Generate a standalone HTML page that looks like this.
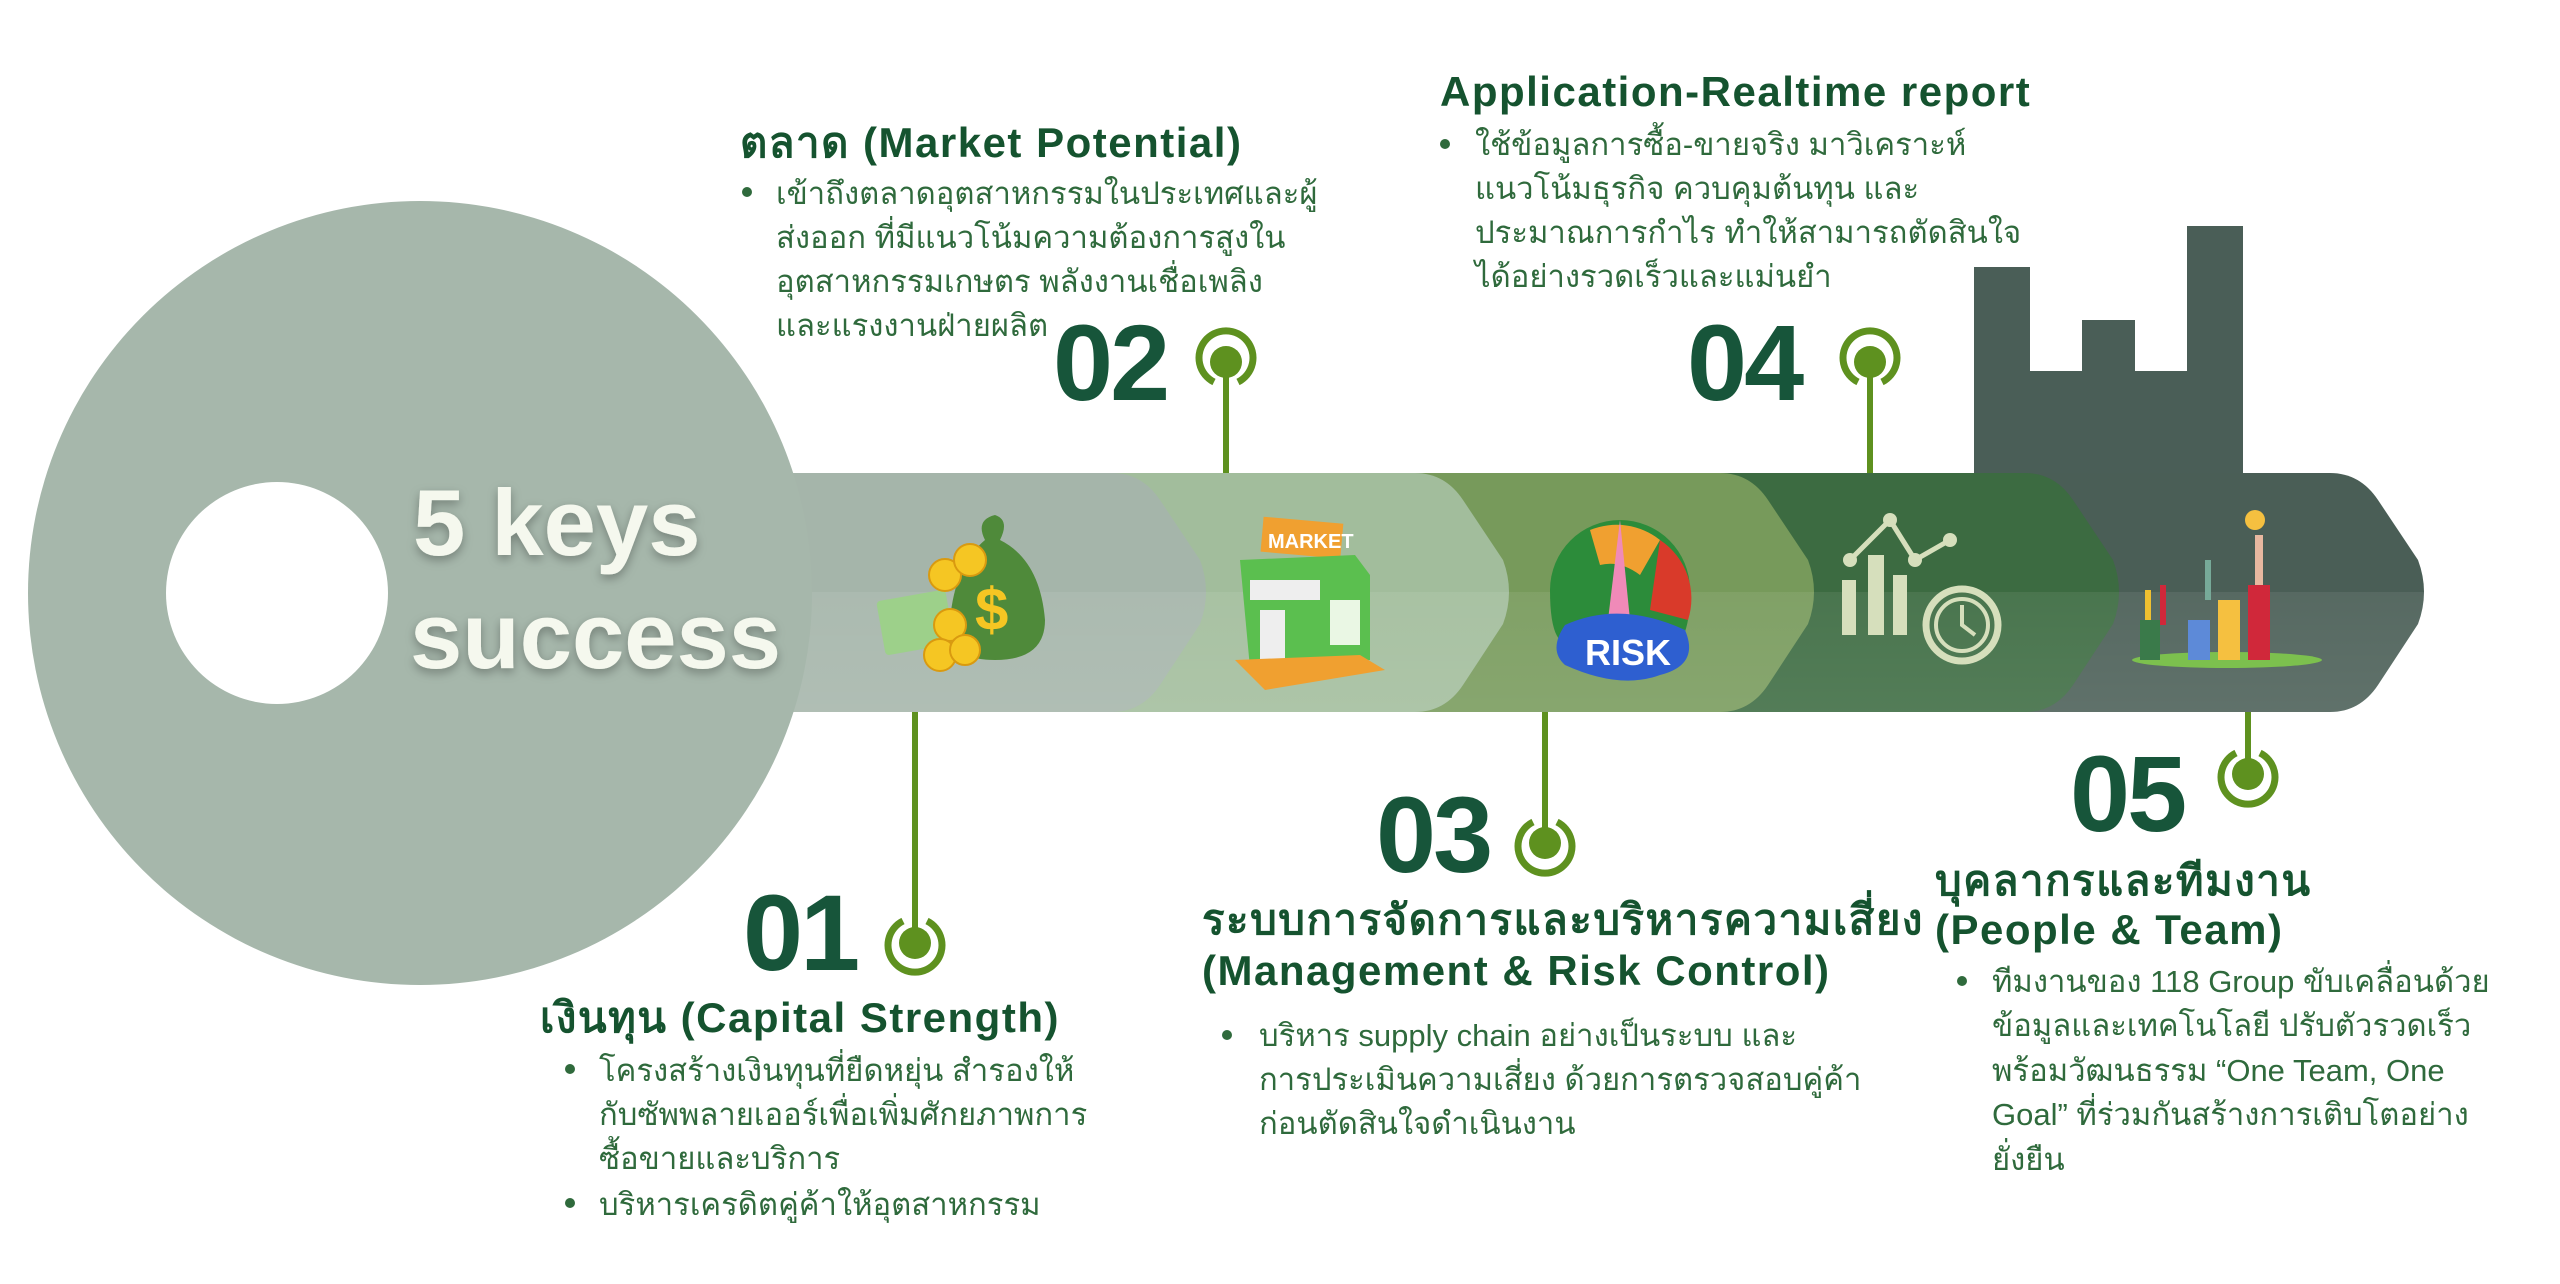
<!DOCTYPE html>
<html><head><meta charset="utf-8">
<style>
html,body{margin:0;padding:0;background:#fff;width:2560px;height:1284px;overflow:hidden}
svg{display:block}
.t{font-family:"Liberation Sans","Noto Sans CJK SC",sans-serif}
.ti{font-weight:bold;fill:#15532f;font-size:42px;letter-spacing:1.5px}
.bd{fill:#2f6a3c;font-size:31px}
.num{font-weight:bold;fill:#17553a;font-size:108px;letter-spacing:-3px}
</style></head><body>
<svg width="2560" height="1284" viewBox="0 0 2560 1284" xmlns="http://www.w3.org/2000/svg">
<defs>
<linearGradient id="lo" x1="0" y1="0" x2="0" y2="1"><stop offset="0" stop-color="#fff" stop-opacity="0.07"/><stop offset="1" stop-color="#fff" stop-opacity="0.12"/></linearGradient>
<filter id="sh" x="-10%" y="-10%" width="120%" height="130%"><feDropShadow dx="0" dy="4" stdDeviation="5" flood-color="#000" flood-opacity="0.3"/></filter>
</defs>
<path d="M1974 267 H2030 V371 H2082 V320 H2135 V371 H2187 V226 H2243 V480 H1974 Z" fill="#4a5e57"/>
<path d="M1900 473 H2330 Q2360 473 2378 500 L2418 560 Q2430 592 2418 624 L2378 685 Q2360 712 2330 712 H1900 Z" fill="#4a5e56"/>
<path d="M1600 473 H2025 Q2055 473 2073 500 L2113 560 Q2125 592 2113 624 L2073 685 Q2055 712 2025 712 H1600 Z" fill="#3c6b41"/>
<path d="M1300 473 H1720 Q1750 473 1768 500 L1808 560 Q1820 592 1808 624 L1768 685 Q1750 712 1720 712 H1300 Z" fill="#779a5b"/>
<path d="M1000 473 H1415 Q1445 473 1463 500 L1503 560 Q1515 592 1503 624 L1463 685 Q1445 712 1415 712 H1000 Z" fill="#a2bd9c"/>
<path d="M700 473 H1112 Q1142 473 1160 500 L1200 560 Q1212 592 1200 624 L1160 685 Q1142 712 1112 712 H700 Z" fill="#a5b5aa"/>
<rect x="700" y="592" width="1730" height="120" fill="url(#lo)"/>
<circle cx="420" cy="593" r="392" fill="#a6b7ab"/>
<circle cx="277" cy="593" r="111" fill="#fff"/>
<text x="413" y="555" class="t" font-size="94" font-weight="bold" fill="#f5f8ee" filter="url(#sh)">5 keys</text>
<text x="410" y="668" class="t" font-size="94" font-weight="bold" fill="#f5f8ee" filter="url(#sh)">success</text>
<g>
<path d="M985 540 Q975 520 995 515 Q1010 520 1000 540 Q1040 560 1045 620 Q1045 660 995 660 Q945 660 950 620 Q955 565 985 540Z" fill="#4f8a3a"/>
<text x="975" y="630" class="t" font-size="60" font-weight="bold" fill="#f5c623">$</text>
<rect x="880" y="595" width="70" height="55" rx="4" fill="#9dd08a" transform="rotate(-10 915 620)"/>
<g fill="#f5c623" stroke="#d99a10" stroke-width="2"><circle cx="945" cy="575" r="16"/><circle cx="970" cy="560" r="16"/><circle cx="950" cy="625" r="16"/><circle cx="940" cy="655" r="16"/><circle cx="965" cy="650" r="15"/></g>
</g>
<g>
<rect x="1262" y="520" width="80" height="35" fill="#f0a030" transform="rotate(5 1300 537)"/>
<text x="1268" y="548" class="t" font-size="20" font-weight="bold" fill="#fff">MARKET</text>
<path d="M1240 560 L1355 555 L1370 575 L1370 660 L1250 668 Z" fill="#5bbf4f"/>
<rect x="1250" y="580" width="70" height="20" fill="#eee"/>
<rect x="1260" y="610" width="25" height="55" fill="#eee"/>
<rect x="1330" y="600" width="30" height="45" fill="#eaf7e4"/>
<path d="M1235 660 L1360 655 L1385 670 L1265 690 Z" fill="#f0a030"/>
</g>
<g>
<path d="M1550 590 A70 70 0 0 1 1690 590 Q1690 630 1680 640 L1560 640 Q1550 630 1550 590Z" fill="#2c8c3a"/>
<path d="M1590 530 A70 70 0 0 1 1660 540 L1640 575 Q1620 560 1600 565Z" fill="#f0a030"/>
<path d="M1660 540 A70 70 0 0 1 1688 620 L1650 610Z" fill="#d93a2a"/>
<path d="M1620 520 L1630 620 L1608 620 Z" fill="#f08ab8"/>
<path d="M1565 625 Q1620 600 1685 630 Q1700 665 1660 675 Q1620 690 1565 665 Q1548 650 1565 625Z" fill="#2e5fd0"/>
<text x="1585" y="665" class="t" font-size="36" font-weight="bold" fill="#fff">RISK</text>
</g>
<g fill="#d6dfbc">
<rect x="1842" y="580" width="14" height="55"/><rect x="1868" y="555" width="16" height="80"/><rect x="1893" y="575" width="14" height="60"/>
<circle cx="1850" cy="560" r="7"/><circle cx="1890" cy="520" r="7"/><circle cx="1915" cy="560" r="7"/><circle cx="1950" cy="540" r="7"/>
<polyline points="1850,560 1890,520 1915,560 1950,540" fill="none" stroke="#d6dfbc" stroke-width="5"/>
<circle cx="1962" cy="625" r="36" fill="none" stroke="#d6dfbc" stroke-width="7"/>
<circle cx="1962" cy="625" r="26" fill="none" stroke="#d6dfbc" stroke-width="4"/>
<polyline points="1962,605 1962,625 1975,635" fill="none" stroke="#d6dfbc" stroke-width="4"/>
</g>
<g>
<ellipse cx="2227" cy="660" rx="95" ry="8" fill="#7cc04e"/>
<rect x="2140" y="620" width="20" height="40" fill="#3a7a4a"/>
<rect x="2188" y="620" width="22" height="40" fill="#5d8ad8"/>
<rect x="2218" y="600" width="22" height="60" fill="#f5c040"/>
<rect x="2248" y="585" width="22" height="75" fill="#d0283a"/>
<circle cx="2255" cy="520" r="10" fill="#f5c040"/>
<rect x="2255" y="535" width="8" height="50" fill="#e8b8a0"/>
<rect x="2160" y="585" width="6" height="40" fill="#d0283a"/>
<rect x="2145" y="590" width="6" height="30" fill="#f0c030"/>
<rect x="2205" y="560" width="6" height="40" fill="#7a9"/>
</g>
<g stroke="#5e911f" fill="none">
<line x1="915" y1="712" x2="915" y2="935" stroke-width="6"/>
<line x1="1226" y1="370" x2="1226" y2="473" stroke-width="6"/>
<line x1="1545" y1="712" x2="1545" y2="835" stroke-width="6"/>
<line x1="1870" y1="370" x2="1870" y2="473" stroke-width="6"/>
<line x1="2248" y1="712" x2="2248" y2="768" stroke-width="6"/>
<path d="M903 921 A27 27 0 1 0 927 921" stroke-width="7"/>
<path d="M1238 382 A27 27 0 1 0 1214 382" stroke-width="7"/>
<path d="M1533 822 A27 27 0 1 0 1557 822" stroke-width="7"/>
<path d="M1882 382 A27 27 0 1 0 1858 382" stroke-width="7"/>
<path d="M2236 753 A27 27 0 1 0 2260 753" stroke-width="7"/>
</g>
<g fill="#5e911f">
<circle cx="915" cy="943" r="16"/><circle cx="1226" cy="362" r="16"/><circle cx="1545" cy="843" r="16"/><circle cx="1870" cy="362" r="16"/><circle cx="2248" cy="774" r="16"/>
</g>
<text x="743" y="970" class="t num">01</text>
<text x="1053" y="400" class="t num">02</text>
<text x="1376" y="872" class="t num">03</text>
<text x="1687" y="400" class="t num">04</text>
<text x="2070" y="831" class="t num">05</text>
<text x="740" y="157" class="t ti">ตลาด (Market Potential)</text>
<g class="t bd"><circle cx="747" cy="192" r="5" fill="#2f6a3c"/>
<text x="776" y="204">เข้าถึงตลาดอุตสาหกรรมในประเทศและผู้</text>
<text x="776" y="248">ส่งออก ที่มีแนวโน้มความต้องการสูงใน</text>
<text x="776" y="292">อุตสาหกรรมเกษตร พลังงานเชื่อเพลิง</text>
<text x="776" y="336">และแรงงานฝ่ายผลิต</text></g>
<text x="1440" y="106" class="t ti">Application-Realtime report</text>
<g class="t bd"><circle cx="1445" cy="144" r="5" fill="#2f6a3c"/>
<text x="1475" y="155">ใช้ข้อมูลการซื้อ-ขายจริง มาวิเคราะห์</text>
<text x="1475" y="199">แนวโน้มธุรกิจ ควบคุมต้นทุน และ</text>
<text x="1475" y="243">ประมาณการกำไร ทำให้สามารถตัดสินใจ</text>
<text x="1475" y="287">ได้อย่างรวดเร็วและแม่นยำ</text></g>
<text x="540" y="1032" class="t ti">เงินทุน (Capital Strength)</text>
<g class="t bd"><circle cx="570" cy="1069" r="5" fill="#2f6a3c"/>
<text x="599" y="1081">โครงสร้างเงินทุนที่ยืดหยุ่น สำรองให้</text>
<text x="599" y="1125">กับซัพพลายเออร์เพื่อเพิ่มศักยภาพการ</text>
<text x="599" y="1169">ซื้อขายและบริการ</text>
<circle cx="570" cy="1203" r="5" fill="#2f6a3c"/>
<text x="599" y="1215">บริหารเครดิตคู่ค้าให้อุตสาหกรรม</text></g>
<text x="1202" y="934" class="t ti">ระบบการจัดการและบริหารความเสี่ยง</text>
<text x="1202" y="985" class="t ti">(Management &amp; Risk Control)</text>
<g class="t bd"><circle cx="1227" cy="1035" r="5" fill="#2f6a3c"/>
<text x="1259" y="1046">บริหาร supply chain อย่างเป็นระบบ และ</text>
<text x="1259" y="1090">การประเมินความเสี่ยง ด้วยการตรวจสอบคู่ค้า</text>
<text x="1259" y="1134">ก่อนตัดสินใจดำเนินงาน</text></g>
<text x="1935" y="895" class="t ti">บุคลากรและทีมงาน</text>
<text x="1935" y="944" class="t ti">(People &amp; Team)</text>
<g class="t bd"><circle cx="1962" cy="981" r="5" fill="#2f6a3c"/>
<text x="1992" y="992">ทีมงานของ 118 Group ขับเคลื่อนด้วย</text>
<text x="1992" y="1036">ข้อมูลและเทคโนโลยี ปรับตัวรวดเร็ว</text>
<text x="1992" y="1081">พร้อมวัฒนธรรม “One Team, One</text>
<text x="1992" y="1125">Goal” ที่ร่วมกันสร้างการเติบโตอย่าง</text>
<text x="1992" y="1170">ยั่งยืน</text></g>
</svg>
</body></html>
